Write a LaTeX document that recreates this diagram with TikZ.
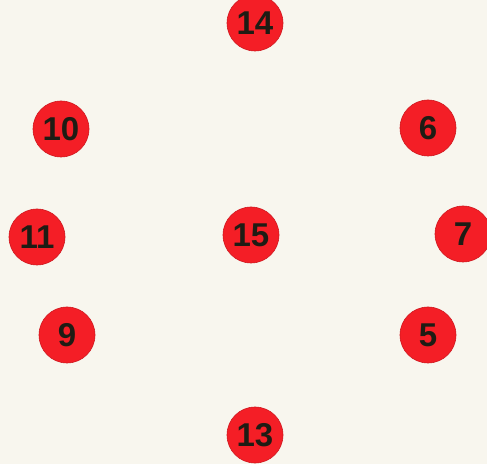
\documentclass[tikz,border=0pt]{standalone}
\usepackage{fontspec}
\setmainfont{Liberation Sans}
\usepackage{xcolor}
\usepackage{tikz}
\definecolor{Paper}{HTML}{F8F6EE}
\definecolor{Spot}{HTML}{F41E26}
\definecolor{Ink}{HTML}{1E1C14}

\begin{document}
\begin{tikzpicture}[x=0.5pt,y=-0.5pt,font=\bfseries\fontsize{16.5}{17}\selectfont,
  spot/.style={circle,fill=Spot,draw=Spot!85!black,line width=0.3pt,minimum size=28pt,inner sep=0pt,text=Ink}]
  \fill[Paper] (0,0) rectangle (487,464);
  \useasboundingbox (0,0) rectangle (487,464);
  \node[spot] (n14) at (255,23) {14};
  \node[spot] (n10) at (61,129) {10};
  \node[spot] (n6) at (428,128) {6};
  \node[spot] (n11) at (37,237) {11};
  \node[spot] (n15) at (251,235) {15};
  \node[spot] (n7) at (463,234) {7};
  \node[spot] (n9) at (67,335) {9};
  \node[spot] (n5) at (428,335) {5};
  \node[spot] (n13) at (255,435) {13};
\end{tikzpicture}
\end{document}
